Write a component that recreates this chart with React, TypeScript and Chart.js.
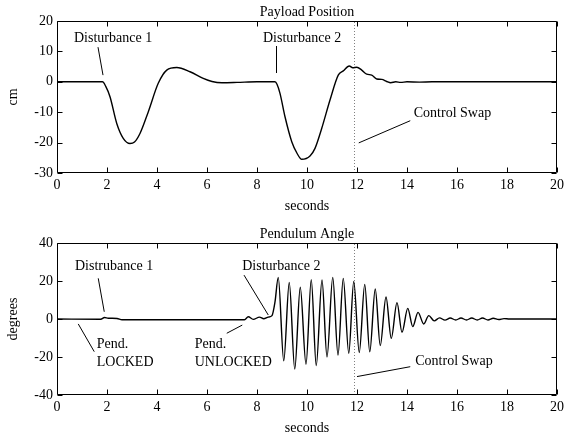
import React, { useEffect, useRef } from 'react';
import { Chart, registerables } from 'chart.js';

Chart.register(...registerables);

// ---------- data ----------
const xTicks = [0, 2, 4, 6, 8, 10, 12, 14, 16, 18, 20];
const posTicks = [-30, -20, -10, 0, 10, 20];
const angTicks = [-40, -20, 0, 20, 40];

const posTime = [0, 1.82, 1.95, 2.12, 2.39, 2.65, 2.92, 3.1, 3.32, 3.65, 4.05, 4.39, 4.79, 5.32, 5.85, 6.2, 6.6, 7.2, 8.0, 8.72, 8.8, 8.92, 9.12, 9.39, 9.6, 9.79, 10.12, 10.32, 10.59, 10.92, 11.25, 11.45, 11.69, 11.83, 11.99, 12.19, 12.39, 12.59, 12.79, 12.99, 13.19, 13.35, 13.55, 13.75, 14.0, 14.5, 15.0, 20];
const posValue = [0, 0, -1.5, -4.9, -13.7, -18.6, -20.3, -19.8, -17, -9.9, -0.5, 3.85, 4.7, 3.3, 1.1, 0.1, -0.3, -0.2, 0, 0, -0.8, -3.8, -11.5, -19.7, -23.5, -25.5, -24.4, -21.9, -15.3, -6, 2.2, 3.6, 5.2, 4.6, 4.8, 3.85, 2.5, 2.2, 0.9, 0.8, 0.1, -0.3, 0, -0.2, 0, -0.1, 0, 0];

const angTime = [0, 1.75, 1.9, 2.05, 2.4, 2.6, 5, 7.5, 7.65, 7.85, 8.1, 8.27, 8.45, 8.6, 8.72, 8.85, 9.07, 9.29, 9.51, 9.73, 9.96, 10.17, 10.37, 10.6, 10.8, 11.03, 11.24, 11.45, 11.67, 11.87, 12.09, 12.31, 12.51, 12.73, 12.93, 13.16, 13.37, 13.6, 13.8, 14.03, 14.23, 14.44, 14.67, 14.87, 15.09, 15.3, 15.52, 15.73, 15.95, 16.16, 16.38, 16.59, 16.81, 17.02, 17.24, 17.45, 17.67, 17.88, 18.1, 20];
const angValue = [0, -0.1, 0.8, 0.4, 0.3, -0.4, -0.4, -0.4, 1.2, -0.2, 1.0, 0.1, 1.0, 1.8, 9, 21.9, -22, 19.2, -26.4, 16.7, -23.8, 20.7, -24.5, 20.5, -20, 21.9, -19, 21.4, -18, 19.7, -17.6, 18.2, -17.3, 15.8, -14, 11.6, -10.2, 8.6, -7, 5.6, -4, 3.5, -2.6, 1.8, -1, 0.6, -0.6, 0.5, -0.5, 0.5, -0.5, 0.5, -0.5, 0.5, -0.5, 0.4, -0.3, 0.2, 0, 0];

const swapTime = 11.9;

// annotation labels (data coordinates)
const posNoteText = ['Disturbance 1', 'Disturbance 2', 'Control Swap'];
const posNoteX = [0.68, 8.24, 14.27];
const posNoteY = [14.4, 14.4, -10.4];
// leader lines: [x1, y1, x2, y2]
const posLeaders = [
  [1.64, 11.4, 1.84, 2.2],
  [8.78, 11.7, 8.78, 2.9],
  [14.13, -12.8, 12.07, -20.1],
];

const angNoteText = ['Distrubance 1', 'Pend.', 'LOCKED', 'Pend.', 'UNLOCKED', 'Disturbance 2', 'Control Swap'];
const angNoteX = [0.72, 1.59, 1.59, 5.51, 5.51, 7.41, 14.33];
const angNoteY = [27.9, -13.3, -22.8, -13.3, -22.8, 27.9, -22.1];
const angLeaders = [
  [1.65, 21.4, 1.89, 3.8],
  [0.85, -2.6, 1.49, -17.2],
  [7.41, -3.2, 6.79, -7.5],
  [7.48, 23.1, 8.45, 2.1],
  [14.13, -25.1, 12.0, -30.3],
];

// ---------- styling ----------
const FAMILY = '"Liberation Serif", "Times New Roman", serif';
const font = { family: FAMILY, size: 14, weight: 'normal' as const };

const framePlugin = {
  id: 'frame',
  afterDatasetsDraw(chart: any, _args: any, opts: any) {
    const { ctx, chartArea: a, scales } = chart;
    const xs = scales.x;
    const ys = scales.y;
    ctx.save();
    ctx.strokeStyle = '#000';
    ctx.lineWidth = 1;
    const L = Math.round(a.left) + 0.5;
    const R = Math.round(a.right) - 0.5;
    const T = Math.round(a.top) + 0.5;
    const B = Math.round(a.bottom) - 0.5;
    ctx.beginPath();
    ctx.rect(L, T, R - L, B - T);
    const tl = 5;
    xs.ticks.forEach((t: any) => {
      const p = Math.round(xs.getPixelForValue(t.value)) + 0.5;
      ctx.moveTo(p, B);
      ctx.lineTo(p, B - tl);
      ctx.moveTo(p, T);
      ctx.lineTo(p, T + tl);
    });
    ys.ticks.forEach((t: any) => {
      const p = Math.round(ys.getPixelForValue(t.value)) + 0.5;
      ctx.moveTo(L, p);
      ctx.lineTo(L + tl, p);
      ctx.moveTo(R, p);
      ctx.lineTo(R - tl, p);
    });
    ctx.stroke();

    ctx.fillStyle = '#000';
    ctx.font = `14px ${FAMILY}`;
    ctx.textAlign = 'left';
    ctx.textBaseline = 'middle';
    (opts.text || []).forEach((txt: string, i: number) => {
      ctx.fillText(txt, xs.getPixelForValue(opts.nx[i]), ys.getPixelForValue(opts.ny[i]));
    });
    ctx.restore();
  },
};

function buildConfig(p: any): any {
  const datasets: any[] = [
    {
      data: p.time.map((t: number, i: number) => ({ x: t, y: p.value[i] })),
      borderColor: '#000',
      borderWidth: 1.4,
      pointRadius: 0,
      cubicInterpolationMode: 'monotone',
      fill: false,
    },
    {
      data: [
        { x: swapTime, y: p.yMin },
        { x: swapTime, y: p.yMax },
      ],
      borderColor: '#808080',
      borderWidth: 1,
      borderDash: [1, 2],
      pointRadius: 0,
      fill: false,
    },
    ...p.leaders.map((l: number[]) => ({
      data: [
        { x: l[0], y: l[1] },
        { x: l[2], y: l[3] },
      ],
      borderColor: '#000',
      borderWidth: 1,
      pointRadius: 0,
      fill: false,
    })),
  ];
  return {
    type: 'line',
    data: { datasets },
    options: {
      animation: false,
      responsive: false,
      maintainAspectRatio: false,
      devicePixelRatio: 1,
      layout: { padding: { left: 0, right: 7, top: 0, bottom: 0 } },
      events: [],
      plugins: {
        legend: { display: false },
        tooltip: { enabled: false },
        title: {
          display: true,
          fullSize: false,
          text: p.title,
          color: '#000',
          font,
          padding: p.titlePad,
        },
        frame: { text: p.noteText, nx: p.noteX, ny: p.noteY },
      },
      scales: {
        x: {
          type: 'linear',
          min: 0,
          max: 20,
          afterBuildTicks: (s: any) => {
            s.ticks = xTicks.map((v) => ({ value: v }));
          },
          grid: { display: false, drawTicks: false },
          border: { display: false },
          ticks: { color: '#000', font, padding: 4, maxRotation: 0, autoSkip: false },
          title: { display: true, text: 'seconds', color: '#000', font, padding: { top: 0, bottom: 0.6 } },
          afterFit: (s: any) => {
            s.height = 42;
            s.paddingLeft = 0;
            s.paddingRight = 0;
          },
        },
        y: {
          type: 'linear',
          min: p.yMin,
          max: p.yMax,
          afterBuildTicks: (s: any) => {
            s.ticks = p.yTicks.map((v: number) => ({ value: v }));
          },
          grid: { display: false, drawTicks: false },
          border: { display: false },
          ticks: { color: '#000', font, padding: 4, autoSkip: false },
          title: { display: true, text: p.yTitle, color: '#000', font, padding: { top: 4.6, bottom: 0 } },
          afterFit: (s: any) => {
            s.width = 57;
          },
        },
      },
    },
    plugins: [framePlugin],
  };
}

export default function App() {
  const topRef = useRef<HTMLCanvasElement>(null);
  const botRef = useRef<HTMLCanvasElement>(null);

  useEffect(() => {
    const c1 = new Chart(
      topRef.current as HTMLCanvasElement,
      buildConfig({
        title: 'Payload Position',
        yTitle: 'cm',
        yMin: -30,
        yMax: 20,
        yTicks: posTicks,
        time: posTime,
        value: posValue,
        leaders: posLeaders,
        noteText: posNoteText,
        noteX: posNoteX,
        noteY: posNoteY,
        titlePad: { top: 4, bottom: 0.2 },
      })
    );
    const c2 = new Chart(
      botRef.current as HTMLCanvasElement,
      buildConfig({
        title: 'Pendulum Angle',
        yTitle: 'degrees',
        yMin: -40,
        yMax: 40,
        yTicks: angTicks,
        time: angTime,
        value: angValue,
        leaders: angLeaders,
        noteText: angNoteText,
        noteX: angNoteX,
        noteY: angNoteY,
        titlePad: { top: 10, bottom: 0.2 },
      })
    );
    return () => {
      c1.destroy();
      c2.destroy();
    };
  }, []);

  return (
    <div
      style={{
        position: 'absolute',
        left: 0,
        top: 0,
        width: 564,
        height: 435,
        overflow: 'hidden',
        background: '#fff',
      }}
    >
      <canvas
        ref={topRef}
        width={564}
        height={215}
        style={{ position: 'absolute', left: 0, top: 0, width: 564, height: 215 }}
      />
      <canvas
        ref={botRef}
        width={564}
        height={221}
        style={{ position: 'absolute', left: 0, top: 216, width: 564, height: 221 }}
      />
    </div>
  );
}
